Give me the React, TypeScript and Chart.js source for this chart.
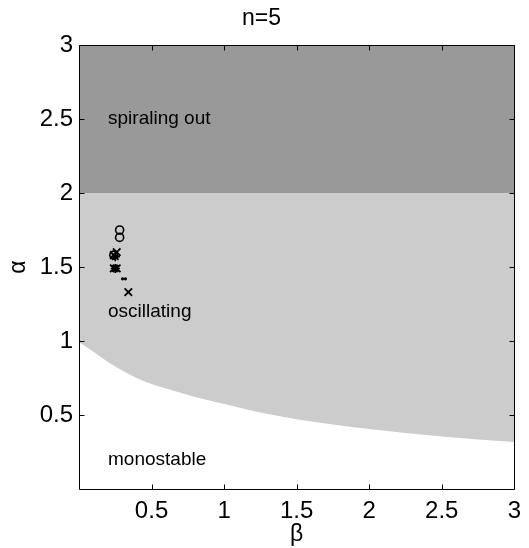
import React, { useEffect, useRef } from "react";
import { Chart, registerables } from "chart.js";

Chart.register(...registerables);

// Boundary curve between monostable and oscillating regions
const curveBeta = [0, 0.07, 0.13, 0.27, 0.4, 0.53, 0.67, 0.8, 0.94, 1.08, 1.25, 1.5, 1.75, 2, 2.25, 2.5, 2.75, 3];
const curveAlpha = [0.992, 0.947, 0.906, 0.816, 0.749, 0.699, 0.659, 0.621, 0.587, 0.556, 0.517, 0.472, 0.436, 0.405, 0.378, 0.355, 0.335, 0.317];
// Boundary between oscillating and spiraling out
const spiralAlpha = 2;

// Marker series
const circleBeta = [0.28, 0.28, 0.24];
const circleAlpha = [1.75, 1.7, 1.58];
const crossBeta = [0.24, 0.26, 0.24, 0.26, 0.34];
const crossAlpha = [1.58, 1.6, 1.49, 1.49, 1.33];
const starBeta = [0.25, 0.25];
const starAlpha = [1.57, 1.49];
const dotBeta = [0.3, 0.32];
const dotAlpha = [1.42, 1.42];

// Ticks
const xTicks = [0.5, 1, 1.5, 2, 2.5, 3];
const yTicks = [0.5, 1, 1.5, 2, 2.5, 3];

// Region labels
const regionLabels = ["spiraling out", "oscillating", "monostable"];
const regionLabelBeta = [0.2, 0.2, 0.2];
const regionLabelAlpha = [2.5, 1.2, 0.2];

const FONT = "'Liberation Sans', Arial, Helvetica, sans-serif";

const pts = (xs: number[], ys: number[]) => xs.map((x, i) => ({ x, y: ys[i] }));

const framePlugin = {
  id: "frame",
  afterDatasetsDraw(chart: any) {
    const { ctx, chartArea } = chart;
    const xs = chart.scales.x;
    const ys = chart.scales.y;
    ctx.save();
    ctx.fillStyle = "#000";
    ctx.font = `19px ${FONT}`;
    ctx.textAlign = "left";
    ctx.textBaseline = "middle";
    regionLabels.forEach((t, i) => {
      ctx.fillText(t, xs.getPixelForValue(regionLabelBeta[i]), ys.getPixelForValue(regionLabelAlpha[i]));
    });
    ctx.strokeStyle = "#000";
    ctx.lineWidth = 1;
    const L = Math.round(chartArea.left) + 0.5;
    const R = Math.round(chartArea.right) + 0.5;
    const T = Math.round(chartArea.top) + 0.5;
    const B = Math.round(chartArea.bottom) + 0.5;
    ctx.beginPath();
    ctx.rect(L, T, R - L, B - T);
    const tl = 5;
    xTicks.forEach((v) => {
      const px = Math.round(xs.getPixelForValue(v)) + 0.5;
      ctx.moveTo(px, B);
      ctx.lineTo(px, B - tl);
      ctx.moveTo(px, T);
      ctx.lineTo(px, T + tl);
    });
    yTicks.forEach((v) => {
      const py = Math.round(ys.getPixelForValue(v)) + 0.5;
      ctx.moveTo(L, py);
      ctx.lineTo(L + tl, py);
      ctx.moveTo(R, py);
      ctx.lineTo(R - tl, py);
    });
    ctx.stroke();
    ctx.restore();
  },
};

export default function App() {
  const ref = useRef<HTMLCanvasElement>(null);
  useEffect(() => {
    if (!ref.current) return;
    const markerBase = {
      showLine: false,
      borderColor: "#000",
      backgroundColor: "#000",
      pointBorderColor: "#000",
      pointBackgroundColor: "rgba(0,0,0,0)",
      order: 0,
    };
    const chart = new Chart(ref.current, {
      type: "line",
      data: {
        datasets: [
          {
            ...markerBase,
            label: "circles",
            data: pts(circleBeta, circleAlpha),
            pointStyle: "circle",
            pointRadius: 4,
            pointBorderWidth: 1.6,
          },
          {
            ...markerBase,
            label: "crosses",
            data: pts(crossBeta, crossAlpha),
            pointStyle: "crossRot",
            pointRadius: 5.3,
            pointBorderWidth: 1.8,
          },
          {
            ...markerBase,
            label: "stars",
            data: pts(starBeta, starAlpha),
            pointStyle: "star",
            pointRadius: 4.6,
            pointBorderWidth: 1.6,
          },
          {
            ...markerBase,
            label: "dots",
            data: pts(dotBeta, dotAlpha),
            pointStyle: "circle",
            pointRadius: 1.6,
            pointBorderWidth: 0,
            pointBackgroundColor: "#000",
          },
          {
            label: "boundary",
            data: pts(curveBeta, curveAlpha),
            borderWidth: 0,
            borderColor: "rgba(0,0,0,0)",
            pointRadius: 0,
            backgroundColor: "#cccccc",
            fill: { target: 5 },
            cubicInterpolationMode: "monotone",
            order: 2,
          },
          {
            label: "spiral",
            data: pts(curveBeta, curveBeta.map(() => spiralAlpha)),
            borderWidth: 0,
            borderColor: "rgba(0,0,0,0)",
            pointRadius: 0,
            backgroundColor: "#999999",
            fill: "end",
            order: 3,
          },
        ],
      },
      options: {
        animation: false,
        responsive: false,
        layout: { padding: { left: 0, right: 6, top: 0, bottom: 0 }, autoPadding: false },
        plugins: {
          legend: { display: false },
          tooltip: { enabled: false },
          title: {
            display: true,
            text: "n=5",
            color: "#000",
            font: { family: FONT, size: 23, weight: "normal", lineHeight: 1.2 },
            padding: { top: 5, bottom: 12.4 },
          },
        },
        scales: {
          x: {
            type: "linear",
            min: 0,
            max: 3,
            grid: { display: false, drawTicks: false },
            border: { display: false },
            ticks: {
              color: "#000",
              padding: 8,
              font: { family: FONT, size: 24 },
              maxRotation: 0,
              callback: (v: any) => String(v),
            },
            afterBuildTicks: (s: any) => {
              s.ticks = xTicks.map((v) => ({ value: v }));
            },
            afterFit: (s: any) => {
              s.height = 59;
            },
            title: {
              display: true,
              text: "β",
              color: "#000",
              font: { family: FONT, size: 23, lineHeight: 1.2 },
              padding: 0,
            },
          },
          y: {
            type: "linear",
            min: 0,
            max: 3,
            grid: { display: false, drawTicks: false },
            border: { display: false },
            ticks: {
              color: "#000",
              padding: 6,
              font: { family: FONT, size: 24 },
              callback: (v: any) => String(v),
            },
            afterBuildTicks: (s: any) => {
              s.ticks = yTicks.map((v) => ({ value: v }));
            },
            afterFit: (s: any) => {
              s.width = 79;
            },
            title: {
              display: true,
              text: "α",
              color: "#000",
              font: { family: FONT, size: 23, lineHeight: 1.2 },
              padding: 5,
            },
          },
        },
      },
      plugins: [framePlugin],
    } as any);
    return () => chart.destroy();
  }, []);
  return (
    <div style={{ position: "fixed", left: 0, top: 0, width: 529, height: 548, background: "#fff" }}>
      <canvas ref={ref} width={529} height={548} style={{ width: 529, height: 548 }} />
    </div>
  );
}
